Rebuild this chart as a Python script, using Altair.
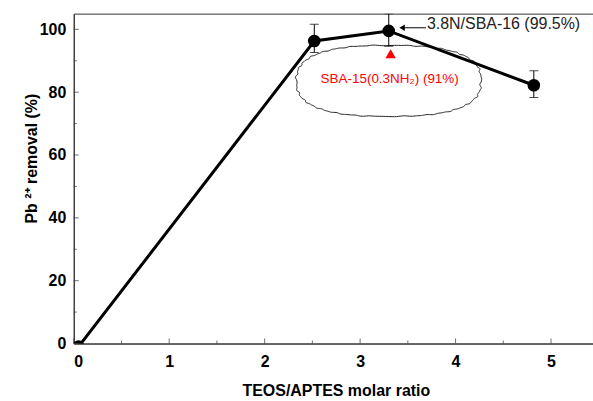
import altair as alt
import numpy as np
import pandas as pd

# ---- data ----
ratio = [0.05, 2.52, 3.30, 4.82]
removal = [-1.0, 96.3, 99.5, 82.2]
err_x = [2.52, 3.30, 4.82]
err_low = [92.6, 94.6, 78.3]
err_high = [101.6, 105.0, 86.8]

ref_x = [3.32]
ref_y = [92.2]

x_major = [0, 1, 2, 3, 4, 5]
x_minor = [0.5, 1.5, 2.5, 3.5, 4.5]
y_major = [0, 20, 40, 60, 80, 100]
y_minor = [10, 30, 50, 70, 90]

XMAX = 5.44
YMAX = 105
W = 521
H = 331
FONT = "Liberation Sans"

# cloud-shaped outline (annotation) around label: rounded superellipse with small ripples
cx, cy, rx, ry = 3.30, 83.6, 0.967, 11.3
t = np.linspace(0, 2 * np.pi, 481)
c, s = np.cos(t), np.sin(t)
p = 2 / 2.6
wig = 1 + 0.007 * np.sin(t * 31) + 0.005 * np.sin(t * 53 + 1.3)
cloud = pd.DataFrame({
    "x": cx + rx * np.sign(c) * np.abs(c) ** p * wig,
    "y": cy + ry * np.sign(s) * np.abs(s) ** p * wig,
    "o": np.arange(len(t)),
})

main = pd.DataFrame({"x": ratio, "y": removal})
errs = pd.DataFrame({"x": err_x, "lo": err_low, "hi": err_high})

xaxis = alt.Axis(values=x_major, title="TEOS/APTES molar ratio", format="d",
                 labelFont=FONT, labelFontSize=16, labelFontWeight="bold", labelColor="black",
                 labelPadding=10, ticks=False, domainColor="#333", grid=False,
                 titleFont=FONT, titleFontSize=16, titleFontWeight="bold", titleColor="black",
                 titleX=263, titleY=47, titleBaseline="middle")
yaxis = alt.Axis(values=y_major, title="Pb ²⁺ removal (%)", format="d",
                 labelFont=FONT, labelFontSize=16, labelFontWeight="bold", labelColor="black",
                 labelPadding=8, ticks=False, domainColor="#333", grid=False,
                 titleFont=FONT, titleFontSize=16, titleFontWeight="bold", titleColor="black",
                 titleX=-42, titleY=145, titleAngle=270, titleBaseline="middle", titleAlign="center")


def X(field="x"):
    return alt.X(field, type="quantitative", scale=alt.Scale(domain=[0, XMAX], nice=False, zero=False), axis=xaxis)


def Y(field="y"):
    return alt.Y(field, type="quantitative", scale=alt.Scale(domain=[0, YMAX], nice=False, zero=False), axis=yaxis)


base = alt.Chart(main)

line = base.mark_line(color="black", strokeWidth=3, clip=True).encode(x=X(), y=Y())
pts = base.mark_circle(color="black", size=160, opacity=1, clip=True).encode(x=X(), y=Y())

ebar = alt.Chart(errs).mark_rule(color="black", strokeWidth=1, clip=True).encode(x=X(), y=Y("lo"), y2="hi")
ecap_lo = alt.Chart(errs).mark_tick(color="black", orient="horizontal", size=9, thickness=1, clip=True).encode(x=X(), y=Y("lo"))
ecap_hi = alt.Chart(errs).mark_tick(color="black", orient="horizontal", size=9, thickness=1, clip=True).encode(x=X(), y=Y("hi"))

cloud_line = alt.Chart(cloud).mark_line(color="#222", strokeWidth=1).encode(x=X(), y=Y(), order="o:Q")

tri = alt.Chart(pd.DataFrame({"x": ref_x, "y": ref_y})).mark_point(
    shape="triangle-up", filled=True, color="#ff0000", size=110, opacity=1).encode(x=X(), y=Y())

red_label = alt.Chart(pd.DataFrame({"x": [3.31], "y": [84.2], "t": ["SBA-15(0.3NH₂) (91%)"]})).mark_text(
    color="#ff0000", font=FONT, fontSize=13.5, align="center", baseline="middle").encode(x=X(), y=Y(), text="t")

blk_label = alt.Chart(pd.DataFrame({"x": [3.70], "y": [101.8], "t": ["3.8N/SBA-16 (99.5%)"]})).mark_text(
    color="#222", font=FONT, fontSize=16, align="left", baseline="middle").encode(x=X(), y=Y(), text="t")

arrow_df = pd.DataFrame({"x": [3.44], "x2": [3.69], "y": [100.5]})
arrow_shaft = alt.Chart(arrow_df).mark_rule(color="black", strokeWidth=1).encode(x=X(), x2="x2", y=Y())
arrow_head = alt.Chart(arrow_df).mark_point(shape="triangle-left", filled=True, color="black", size=40, opacity=1).encode(x=X(), y=Y())

# inward ticks
xt_major = alt.Chart(pd.DataFrame({"x": x_major})).mark_tick(color="#333", orient="vertical", size=5, thickness=1).encode(
    x=X(), y=alt.value(H - 2.5))
xt_minor = alt.Chart(pd.DataFrame({"x": x_minor})).mark_tick(color="#333", orient="vertical", size=3, thickness=1).encode(
    x=X(), y=alt.value(H - 1.5))
yt_major = alt.Chart(pd.DataFrame({"y": y_major})).mark_tick(color="#333", orient="horizontal", size=5, thickness=1).encode(
    y=Y(), x=alt.value(2.5))
yt_minor = alt.Chart(pd.DataFrame({"y": y_minor})).mark_tick(color="#333", orient="horizontal", size=3, thickness=1).encode(
    y=Y(), x=alt.value(1.5))

chart = alt.layer(
    cloud_line, line, ebar, ecap_lo, ecap_hi, pts, tri, red_label, blk_label, arrow_shaft, arrow_head,
    xt_major, xt_minor, yt_major, yt_minor,
).properties(
    width=W, height=H,
    padding={"left": 74, "top": 13, "right": 0, "bottom": 57},
    autosize=alt.AutoSizeParams(type="none"),
    background="white",
).configure_view(stroke="#333", strokeWidth=1)

chart.save("out.html", embed_options={"renderer": "svg", "actions": False})
